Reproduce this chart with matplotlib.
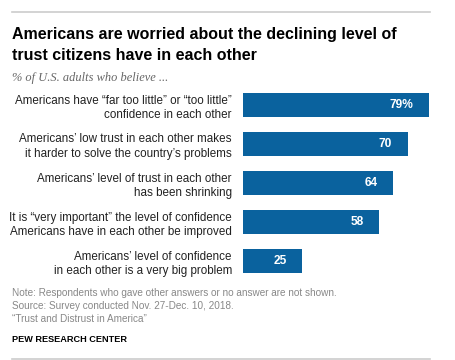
import matplotlib.pyplot as plt
from matplotlib.lines import Line2D

# data
labels = [
    "Americans have \u201cfar too little\u201d or \u201ctoo little\u201d\nconfidence in each other",
    "Americans\u2019 low trust in each other makes\nit harder to solve the country\u2019s problems",
    "Americans\u2019 level of trust in each other\nhas been shrinking",
    "It is \u201cvery important\u201d the level of confidence\nAmericans have in each other be improved",
    "Americans\u2019 level of confidence\nin each other is a very big problem",
]
values = [79, 70, 64, 58, 25]
value_text = ["79%", "70", "64", "58", "25"]

W, H = 456, 360
fig = plt.figure(figsize=(W / 100, H / 100), dpi=100)
plt.rcParams['font.family'] = ['Liberation Sans', 'DejaVu Sans']

# axes placed in pixel terms
ax = fig.add_axes([243 / W, 1 - 280.5 / H, 235 / W, 195 / H])
ypos = range(len(values))
ax.barh(ypos, values, height=24 / 39, color='#0a629e')
ax.set_xlim(0, 100)
ax.set_ylim(len(values) - 0.5, -0.5)
ax.set_yticks(list(ypos))
ax.set_yticklabels(labels, fontsize=8.35, color='#222222', linespacing=1.25)
ax.tick_params(axis='y', length=0, pad=8)
ax.set_xticks([])
for s in ax.spines.values():
    s.set_visible(False)

for y, v, t in zip(ypos, values, value_text):
    ax.annotate(t, (v, y), xytext=(-11, 0), textcoords='offset points',
                ha='right', va='center', color='white', fontsize=8.6,
                fontweight='bold')

# title, subtitle, footer
fig.text(12 / W, 1 - 34 / H, "Americans are worried about the declining level of",
         fontsize=11.5, fontweight='bold', va='center', color='black')
fig.text(12 / W, 1 - 56 / H, "trust citizens have in each other",
         fontsize=11.5, fontweight='bold', va='center', color='black')
fig.text(12 / W, 1 - 78 / H, "% of U.S. adults who believe ...",
         fontsize=8.9, style='italic', family=['Liberation Serif', 'DejaVu Serif'],
         va='center', color='#666666')

foot = [
    (293, "Note: Respondents who gave other answers or no answer are not shown."),
    (306, "Source: Survey conducted Nov. 27-Dec. 10, 2018."),
    (319, "\u201cTrust and Distrust in America\u201d"),
]
for y, t in foot:
    fig.text(12 / W, 1 - y / H, t, fontsize=7.2, color='#888888', va='center')
fig.text(12 / W, 1 - 339 / H, "PEW RESEARCH CENTER", fontsize=6.6, fontweight='bold',
         color='black', va='center')

fig.add_artist(Line2D([12 / W, 430 / W], [1 - 12 / H, 1 - 12 / H], color='#cccccc', lw=1.2))
fig.add_artist(Line2D([12 / W, 430 / W], [1 - 359 / H, 1 - 359 / H], color='#cccccc', lw=1.2))

fig.savefig('out.png', dpi=100)
